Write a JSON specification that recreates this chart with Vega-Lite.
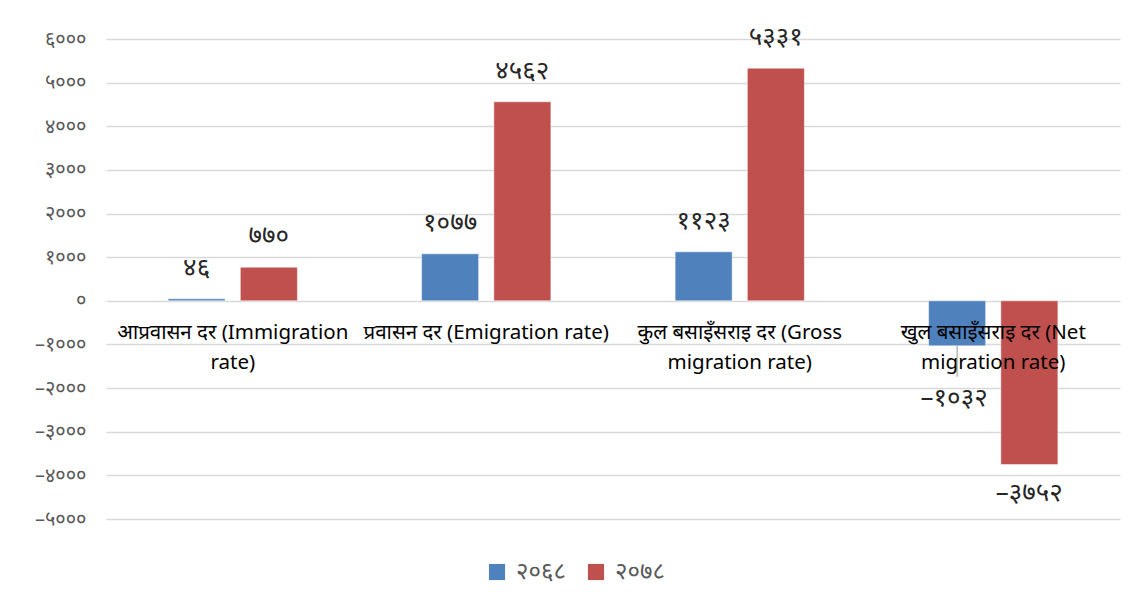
{
  "$schema": "https://vega.github.io/schema/vega-lite/v6.json",
  "width": 1014,
  "height": 480,
  "autosize": {"type": "none"},
  "padding": {"left": 106, "top": 39, "right": 20, "bottom": 90},
  "background": "white",
  "config": {
    "view": {"stroke": null},
    "font": "Noto Sans",
    "locale": {
      "number": {
        "decimal": ".",
        "thousands": ",",
        "grouping": [3],
        "currency": ["", ""],
        "numerals": ["०", "१", "२", "३", "४", "५", "६", "७", "८", "९"],
        "minus": "–"
      }
    }
  },
  "data": {
    "values": [
      {"category": "आप्रवासन दर (Immigration\nrate)", "series": "२०६८", "value": 46},
      {"category": "आप्रवासन दर (Immigration\nrate)", "series": "२०७८", "value": 770},
      {"category": "प्रवासन दर (Emigration rate)", "series": "२०६८", "value": 1077},
      {"category": "प्रवासन दर (Emigration rate)", "series": "२०७८", "value": 4562},
      {"category": "कुल बसाइँसराइ दर (Gross\nmigration rate)", "series": "२०६८", "value": 1123},
      {"category": "कुल बसाइँसराइ दर (Gross\nmigration rate)", "series": "२०७८", "value": 5331},
      {"category": "खुल बसाइँसराइ दर (Net\nmigration rate)", "series": "२०६८", "value": -1032},
      {"category": "खुल बसाइँसराइ दर (Net\nmigration rate)", "series": "२०७८", "value": -3752}
    ]
  },
  "encoding": {
    "x": {
      "field": "category",
      "type": "nominal",
      "sort": null,
      "scale": {"paddingInner": 0, "paddingOuter": 0},
      "axis": null
    }
  },
  "layer": [
    {
      "mark": {"type": "bar", "stroke": "white", "strokeWidth": 0.5},
      "encoding": {
        "xOffset": {
          "field": "series",
          "type": "nominal",
          "scale": {"domain": ["२०६८", "२०७८"], "paddingInner": 0.21, "paddingOuter": 0.86}
        },
        "y": {
          "field": "value",
          "type": "quantitative",
          "scale": {"domain": [-5000, 6000], "nice": false},
          "axis": {
            "values": [-5000, -4000, -3000, -2000, -1000, 0, 1000, 2000, 3000, 4000, 5000, 6000],
            "format": "d",
            "title": null,
            "domain": false,
            "ticks": false,
            "grid": true,
            "gridColor": "#D9D9D9",
            "gridWidth": 1.5,
            "labelFontSize": 20,
            "labelColor": "#595959",
            "labelPadding": 20
          }
        },
        "color": {
          "field": "series",
          "type": "nominal",
          "scale": {"domain": ["२०६८", "२०७८"], "range": ["#4F81BD", "#C0504D"]},
          "legend": {
            "title": null,
            "orient": "none",
            "legendX": 379,
            "legendY": 521,
            "direction": "horizontal",
            "symbolType": "square",
            "symbolSize": 260,
            "symbolStrokeWidth": 0,
            "labelFontSize": 24,
            "labelColor": "#595959",
            "columnPadding": 18,
            "labelOffset": 7
          }
        }
      }
    },
    {
      "transform": [{"filter": "datum.value == -1032"}],
      "mark": {"type": "rule", "color": "#A6A6A6", "strokeWidth": 1.2},
      "encoding": {
        "xOffset": {"field": "series", "type": "nominal", "scale": {"domain": ["२०६८", "२०७८"], "paddingInner": 0.21, "paddingOuter": 0.86}},
        "y": {"field": "value", "type": "quantitative"},
        "y2": {"datum": -1740}
      }
    },
    {
      "transform": [{"filter": "datum.value >= 0"}],
      "mark": {"type": "text", "fontSize": 26, "color": "#262626", "baseline": "middle", "dy": -31},
      "encoding": {
        "xOffset": {"field": "series", "type": "nominal", "scale": {"domain": ["२०६८", "२०७८"], "paddingInner": 0.21, "paddingOuter": 0.86}},
        "y": {"field": "value", "type": "quantitative"},
        "text": {"field": "value", "type": "quantitative", "format": "d"}
      }
    },
    {
      "transform": [{"filter": "datum.value < -3000"}],
      "mark": {"type": "text", "fontSize": 26, "color": "#262626", "baseline": "middle", "dy": 28},
      "encoding": {
        "xOffset": {"field": "series", "type": "nominal", "scale": {"domain": ["२०६८", "२०७८"], "paddingInner": 0.21, "paddingOuter": 0.86}},
        "y": {"field": "value", "type": "quantitative"},
        "text": {"field": "value", "type": "quantitative", "format": "d"}
      }
    },
    {
      "transform": [{"filter": "datum.value < 0 && datum.value > -3000"}],
      "mark": {"type": "text", "fontSize": 26, "color": "#262626", "baseline": "middle", "dy": 52, "dx": -3},
      "encoding": {
        "xOffset": {"field": "series", "type": "nominal", "scale": {"domain": ["२०६८", "२०७८"], "paddingInner": 0.21, "paddingOuter": 0.86}},
        "y": {"field": "value", "type": "quantitative"},
        "text": {"field": "value", "type": "quantitative", "format": "d"}
      }
    },
    {
      "transform": [{"filter": "datum.series == '२०६८'"}],
      "mark": {"type": "text", "fontSize": 20.5, "color": "#000000", "baseline": "top", "lineBreak": "\n", "lineHeight": 30, "dy": 22},
      "encoding": {
        "y": {"datum": 0},
        "text": {"field": "category", "type": "nominal"}
      }
    }
  ]
}
